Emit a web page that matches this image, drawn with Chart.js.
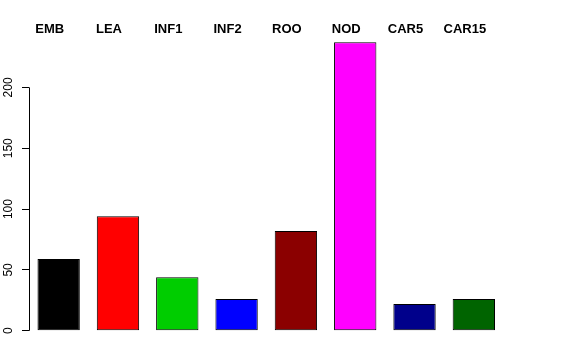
<!DOCTYPE html>
<html>
<head>
<meta charset="utf-8">
<script src="https://cdn.jsdelivr.net/npm/chart.js@4.4.1/dist/chart.umd.min.js"></script>
<style>
  html, body { margin: 0; padding: 0; background: #fff; }
  #wrap { width: 576px; height: 360px; }
</style>
</head>
<body>
<div id="wrap"><canvas id="barChart"></canvas></div>
<script>
// data
const categories = ["EMB", "LEA", "INF1", "INF2", "ROO", "NOD", "CAR5", "CAR15"];
const counts = [59, 94, 44, 26, 82, 237, 22, 26];
const barColors = ["#000000", "#FF0000", "#00CD00", "#0000FF", "#8B0000", "#FF00FF", "#00008B", "#006400"];
const yTicks = [0, 50, 100, 150, 200];

// R style pieces: short y axis line, rotated tick labels, names above bars
const rStyle = {
  id: "rStyle",
  afterDraw(chart) {
    const ctx = chart.ctx;
    const x = chart.scales.x;
    const y = chart.scales.y;
    const left = chart.chartArea.left;

    ctx.save();
    ctx.strokeStyle = "#000";
    ctx.lineWidth = 1;
    ctx.beginPath();
    ctx.moveTo(left + 0.5, y.getPixelForValue(yTicks[0]));
    ctx.lineTo(left + 0.5, y.getPixelForValue(yTicks[yTicks.length - 1]));
    ctx.stroke();

    // tick labels, reading upwards
    ctx.fillStyle = "#000";
    ctx.font = "12px 'Liberation Sans', Arial, sans-serif";
    ctx.textAlign = "center";
    ctx.textBaseline = "middle";
    yTicks.forEach((v) => {
      ctx.save();
      ctx.translate(9, y.getPixelForValue(v));
      ctx.rotate(-Math.PI / 2);
      ctx.fillText(String(v), 0, 0);
      ctx.restore();
    });

    // category names along the top
    ctx.font = "bold 13px 'Liberation Sans', Arial, sans-serif";
    categories.forEach((name, i) => {
      ctx.fillText(name, x.getPixelForValue(i) - 9, 29);
    });
    ctx.restore();
  },
};

const chart = new Chart(document.getElementById("barChart"), {
  type: "bar",
  data: {
    labels: categories,
    datasets: [
      {
        data: counts,
        backgroundColor: barColors,
        borderColor: "#000000",
        borderWidth: 1,
        borderSkipped: false,
        barPercentage: 0.714,
        categoryPercentage: 1,
      },
    ],
  },
  options: {
    responsive: true,
    maintainAspectRatio: false,
    animation: false,
    layout: {
      padding: { left: 0, right: 72.5, top: 30.8, bottom: 17.7 },
    },
    plugins: {
      legend: { display: false },
      tooltip: { enabled: false },
    },
    scales: {
      x: {
        display: false,
      },
      y: {
        min: -9.5,
        max: 246.5,
        afterFit(scale) {
          scale.width = 29;
        },
        afterBuildTicks(scale) {
          scale.ticks = yTicks.map((v) => ({ value: v }));
        },
        border: { display: false },
        grid: {
          drawOnChartArea: false,
          drawTicks: true,
          tickLength: 7,
          color: "#000000",
        },
        ticks: { display: false },
      },
    },
  },
  plugins: [rStyle],
});
</script>
</body>
</html>
